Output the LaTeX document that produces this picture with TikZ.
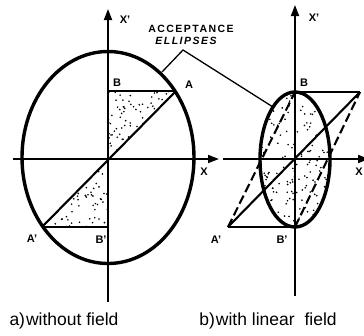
\documentclass[tikz,border=0pt]{standalone}
\usepackage{fontspec}
\setmainfont{Liberation Sans}
\usetikzlibrary{arrows.meta}
\begin{document}
\begin{tikzpicture}[x=1pt,y=-1pt,
  axis/.style={line width=1.8pt,-{Triangle[length=11pt,width=8pt]}},
  plainaxis/.style={line width=1.8pt},
  ell/.style={line width=3.4pt},
  edgeline/.style={line width=2.1pt},
  dashedge/.style={line width=2.1pt, dash pattern=on 9pt off 4pt},
  leader/.style={line width=1.3pt},
  lbl/.style={font=\fontsize{11}{12}\selectfont\bfseries, inner sep=0pt},
  captext/.style={font=\fontsize{17.5}{20}\selectfont, inner sep=0pt},
  head/.style={font=\fontsize{10.5}{12}\selectfont\bfseries\addfontfeature{LetterSpace=14}, inner sep=0pt}]
\useasboundingbox (0,0) rectangle (364,335);

% ---------- left panel ----------
\coordinate (O1) at (108,159);
\coordinate (A1) at (176,91);
\coordinate (B1) at (108,91);
\coordinate (Ap1) at (42,227);
\coordinate (Bp1) at (108,227);
\coordinate (V1b) at (108,302);
\coordinate (V1t) at (108,9);
\coordinate (H1l) at (13,159);
\coordinate (H1r) at (219,159);

% stipple
\pgfmathsetseed{11}
\begin{scope}
  \clip (B1) -- (A1) -- (O1) -- cycle;
  \foreach \i in {1,...,110}{\fill ({108+68*rnd},{91+68*rnd}) circle (0.9pt);}
\end{scope}
\begin{scope}
  \clip (O1) -- (Ap1) -- (Bp1) -- cycle;
  \foreach \i in {1,...,110}{\fill ({42+66*rnd},{159+68*rnd}) circle (0.9pt);}
\end{scope}

\draw[plainaxis] (V1b) -- (O1);
\draw[axis] (O1) -- (V1t);
\draw[axis] (H1l) -- (H1r);
\draw[ell] (108,157.5) ellipse [x radius=86, y radius=106];
\draw[edgeline] (B1) -- (A1);
\draw[edgeline] (A1) -- (Ap1);
\draw[edgeline] (Ap1) -- (Bp1);

\node[lbl] (lB1) at (117,83) {B};
\node[lbl] (lA1) at (189,85) {A};
\node[lbl] (lAp1) at (32,239) {A'};
\node[lbl] (lBp1) at (101,240) {B'};
\node[lbl] (lX1) at (125,20) {X'};
\node[lbl] (lx1) at (204,172) {X};

% ---------- right panel ----------
\coordinate (O2) at (295,159);
\coordinate (B2) at (295,92);
\coordinate (A2) at (360,92);
\coordinate (Bp2) at (295,227);
\coordinate (Ap2) at (228,227);
\coordinate (V2b) at (295,296);
\coordinate (V2t) at (295,5);
\coordinate (H2l) at (223,159);
\coordinate (H2r) at (369,159);

\pgfmathsetseed{5}
\begin{scope}
  \clip (295,159.5) ellipse [x radius=35, y radius=67.5];
  \foreach \i in {1,...,170}{\fill ({260+70*rnd},{92+135*rnd}) circle (0.9pt);}
\end{scope}

\draw[plainaxis] (V2b) -- (O2);
\draw[axis] (O2) -- (V2t);
\draw[axis] (H2l) -- (H2r);
\draw[ell] (295,159.5) ellipse [x radius=35, y radius=67.5];
\draw[edgeline] (B2) -- (A2);
\draw[edgeline] (A2) -- (Ap2);
\draw[edgeline] (Ap2) -- (Bp2);
\draw[dashedge] (Ap2) -- (B2);
\draw[dashedge] (Bp2) -- (A2);

\node[lbl] (lB2) at (304,83) {B};
\node[lbl] (lAp2) at (216,240) {A'};
\node[lbl] (lBp2) at (282,240) {B'};
\node[lbl] (lX2) at (314,18) {X'};
\node[lbl] (lx2) at (359,172) {X};

% ---------- heading and leaders ----------
\node[head] (acc) at (191,29) {ACCEPTANCE};
\node[head, font=\fontsize{10.5}{12}\selectfont\bfseries\itshape\addfontfeature{LetterSpace=14}] (ellt) at (186,41) {ELLIPSES};
\coordinate (V) at (183,50);
\coordinate (L1) at (162,72);
\coordinate (L2) at (273,107);
\draw[leader] (L1) -- (V) -- (L2);

% ---------- captions ----------
\node[captext] (capa) at (64,321) {a)\kern1pt without field};
\node[captext] (capb) at (268,321) {b)\kern1pt with linear\kern5pt\ field};
\end{tikzpicture}
\end{document}
